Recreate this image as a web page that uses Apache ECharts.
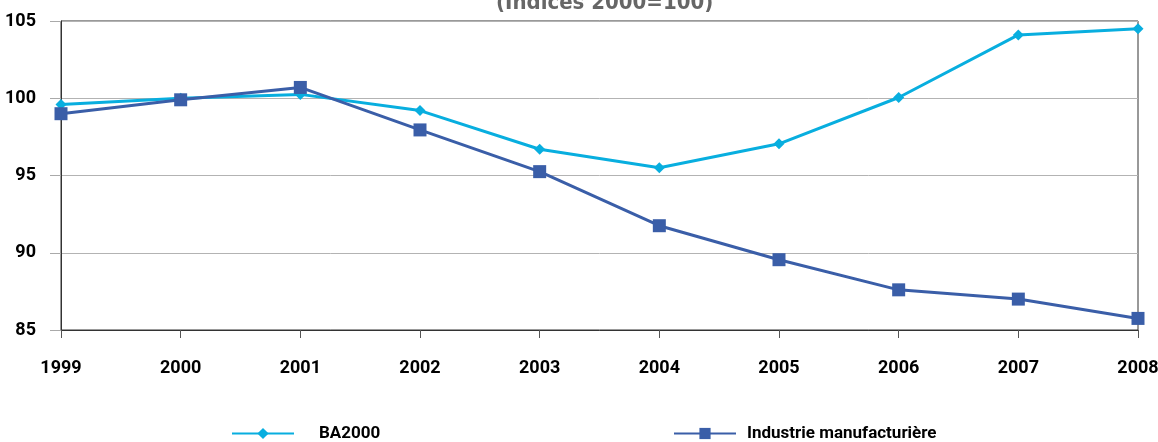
<!DOCTYPE html>
<html>
<head>
<meta charset="utf-8">
<script src="https://cdn.jsdelivr.net/npm/echarts@6/dist/echarts.min.js"></script>
<style>
  html, body { margin: 0; padding: 0; background: #fff; }
  #chart { width: 1158px; height: 442px; }
</style>
</head>
<body>
<div id="chart"></div>
<script>
var years = ['1999', '2000', '2001', '2002', '2003', '2004', '2005', '2006', '2007', '2008'];
var ba2000 = [99.6, 100.0, 100.25, 99.2, 96.7, 95.5, 97.05, 100.05, 104.1, 104.5];
var industrie = [99.0, 99.9, 100.7, 97.95, 95.25, 91.75, 89.55, 87.6, 87.0, 85.75];
var font = 'Roboto, "DejaVu Sans Condensed", sans-serif';
var titleFont = '"DejaVu Sans Condensed", sans-serif';

var myChart = echarts.init(document.getElementById('chart'));
var legendText = { color: '#000', fontSize: 17, fontWeight: 'bold', fontFamily: font };
var option = {
  animation: false,
  title: {
    text: '(Indices 2000=100)',
    left: 491,
    top: -13,
    textStyle: { color: '#666', fontSize: 22, fontWeight: 'bold', fontFamily: titleFont }
  },
  grid: {
    left: 61, right: 20, top: 21, bottom: 112,
    outerBoundsMode: 'none',
    show: true, borderColor: '#333', borderWidth: 1
  },
  legend: [
    {
      left: 226, top: 420,
      itemWidth: 62, itemHeight: 14,
      textStyle: Object.assign({ padding: [0, 0, 0, 20] }, legendText),
      data: ['BA2000']
    },
    {
      left: 668, top: 420,
      itemWidth: 62, itemHeight: 14,
      textStyle: Object.assign({ padding: [0, 0, 0, 6] }, legendText),
      data: ['Industrie manufacturière']
    }
  ],
  xAxis: {
    type: 'category',
    data: years,
    boundaryGap: false,
    axisLine: { lineStyle: { color: '#333' } },
    axisTick: { show: true, length: 8, lineStyle: { color: '#555' } },
    axisLabel: { color: '#000', fontSize: 18, fontWeight: 'bold', fontFamily: font, margin: 29 }
  },
  yAxis: {
    type: 'value',
    min: 85, max: 105, interval: 5,
    axisLine: { show: true, lineStyle: { color: '#333' } },
    axisTick: { show: true, length: 11, lineStyle: { color: '#aaa' } },
    splitLine: { lineStyle: { color: '#b3b3b3' } },
    axisLabel: { color: '#000', fontSize: 18, fontWeight: 'bold', fontFamily: font, margin: 25 }
  },
  series: [
    {
      name: 'BA2000',
      type: 'line',
      data: ba2000,
      symbol: 'diamond',
      symbolSize: 11,
      lineStyle: { color: '#08aedf', width: 3 },
      itemStyle: { color: '#08aedf' }
    },
    {
      name: 'Industrie manufacturière',
      type: 'line',
      data: industrie,
      symbol: 'rect',
      symbolSize: 13,
      lineStyle: { color: '#3a5ea8', width: 3 },
      itemStyle: { color: '#3a5ea8' }
    }
  ]
};
myChart.setOption(option, true);
</script>
</body>
</html>
